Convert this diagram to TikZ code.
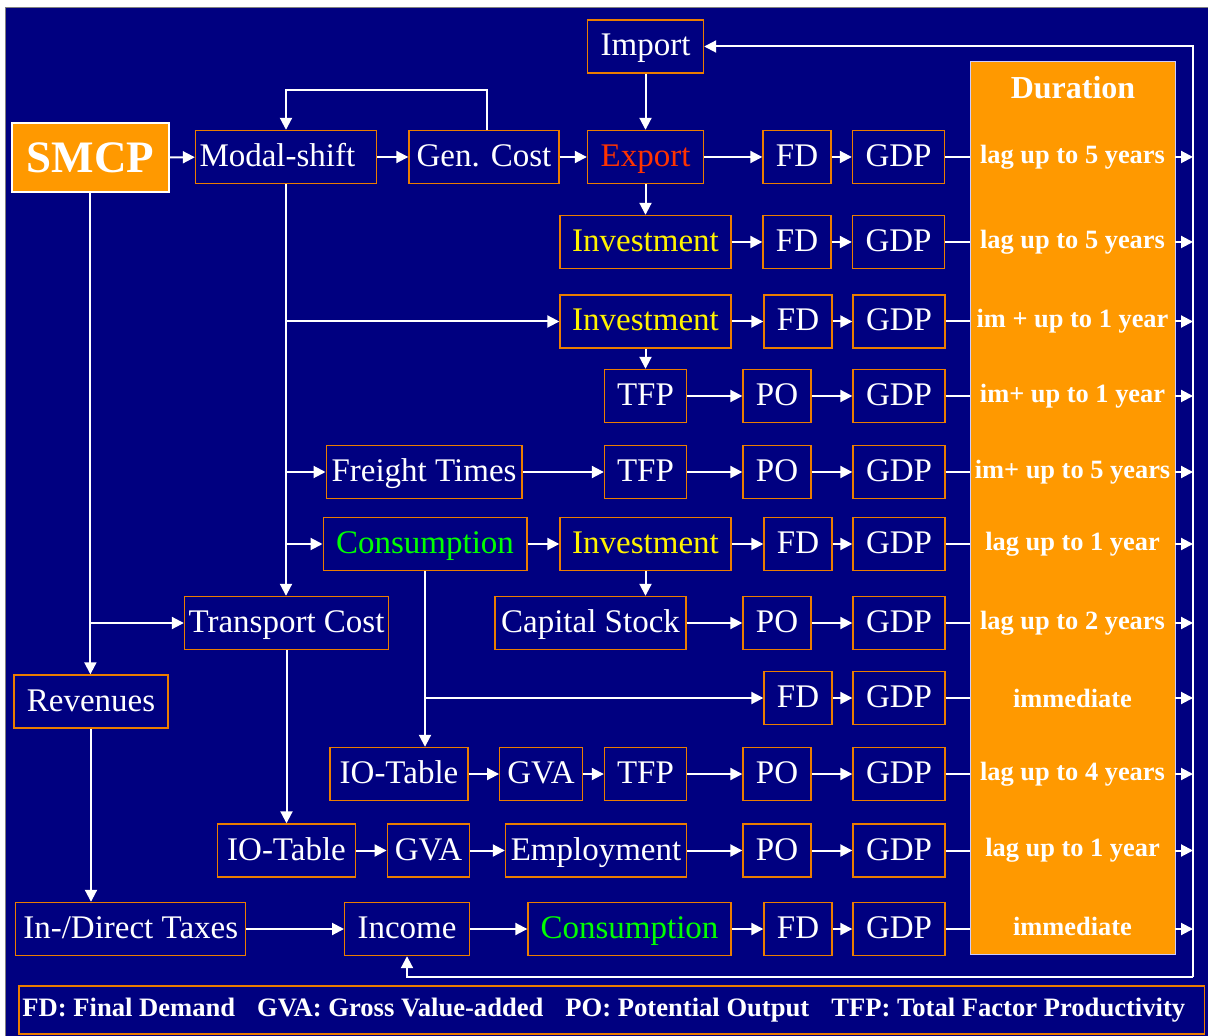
\documentclass[tikz,border=0pt]{standalone}
\usepackage{fontspec}
\setmainfont{Liberation Serif}
\usetikzlibrary{arrows.meta}
\definecolor{navy}{RGB}{0,0,128}
\definecolor{durorange}{RGB}{255,153,0}
\definecolor{edge}{RGB}{235,125,0}
\definecolor{expred}{RGB}{255,51,0}
\definecolor{consgreen}{RGB}{0,255,0}

\begin{document}
\begin{tikzpicture}[x=0.5pt,y=-0.5pt,
    box/.style={draw=edge,line width=0.7pt,fill=navy,text=white,minimum height=26.5pt,
      inner sep=0pt,text height=12pt,text depth=2.5pt,font=\fontsize{16.5}{18}\selectfont},
    arr/.style={draw=white,line width=1pt,-{Triangle[length=6pt,width=6pt]}},
    link/.style={draw=white,line width=1pt},
    lag/.style={text=white,font=\bfseries\fontsize{13.2}{15}\selectfont}]
  \useasboundingbox (0,0) rectangle (1208,1036);
  \fill[white] (0,0) rectangle (1208,1036);
  \draw[fill=navy,draw=gray] (5,7) rectangle (1208,1036);

  % duration column
  \node[draw=white!80!blue,fill=durorange,minimum width=102.5pt,minimum height=446.5pt,inner sep=0pt] (dur) at (1072.5,507.5) {};
  \node[text=white,font=\bfseries\fontsize{16}{18}\selectfont] (durtitle) at (1073,88) {Duration};

  % row 1
  \node[box,minimum width=58pt] (imp) at (645.5,46.5) {Import};
  \node[box,fill=durorange,draw=white,minimum width=78.5pt,minimum height=34.5pt,text height=15pt,text depth=0pt,
    font=\bfseries\fontsize{22.5}{24}\selectfont] (smcp) at (90.4,157.5) {SMCP};
  \node[box,text width=86.5pt,inner xsep=2pt,align=left] (modal) at (286,157) {Modal-shift};
  \node[box,minimum width=75pt] (gen) at (484,157) {Gen. Cost};
  \node[box,minimum width=58pt,text=expred] (exp) at (645.5,157) {Export};
  \node[box,minimum width=34pt] (fd1) at (797,157) {FD};
  \node[box,minimum width=46pt] (gdp1) at (898.5,157) {GDP};

  % row 2
  \node[box,minimum width=85.5pt,text=yellow] (inv2) at (645.5,242) {Investment};
  \node[box,minimum width=34pt] (fd2) at (797,242) {FD};
  \node[box,minimum width=46pt] (gdp2) at (898.5,242) {GDP};

  % row 3
  \node[box,minimum width=85.5pt,text=yellow] (inv3) at (645.5,321.5) {Investment};
  \node[box,minimum width=34pt] (fd3) at (798,321.5) {FD};
  \node[box,minimum width=46pt] (gdp3) at (899,321.5) {GDP};

  % row 4
  \node[box,minimum width=41pt] (tfp4) at (645.5,396) {TFP};
  \node[box,minimum width=34pt] (po4) at (777,396) {PO};
  \node[box,minimum width=46pt] (gdp4) at (899,396) {GDP};

  % row 5
  \node[box,minimum width=97.8pt] (frt) at (424,472) {Freight Times};
  \node[box,minimum width=41pt] (tfp5) at (645.5,472) {TFP};
  \node[box,minimum width=34pt] (po5) at (777,472) {PO};
  \node[box,minimum width=46pt] (gdp5) at (899,472) {GDP};

  % row 6
  \node[box,minimum width=101.8pt,text=consgreen] (cons6) at (425,544) {Consumption};
  \node[box,minimum width=85.5pt,text=yellow] (inv6) at (645.5,544) {Investment};
  \node[box,minimum width=34pt] (fd6) at (798,544) {FD};
  \node[box,minimum width=46pt] (gdp6) at (899,544) {GDP};

  % row 7
  \node[box,minimum width=102pt] (tcost) at (286.5,623) {Transport Cost};
  \node[box,minimum width=95.5pt] (cap) at (590.5,623) {Capital Stock};
  \node[box,minimum width=34pt] (po7) at (777,623) {PO};
  \node[box,minimum width=46pt] (gdp7) at (899,623) {GDP};

  % row 8
  \node[box,minimum width=77pt] (rev) at (91,701.5) {Revenues};
  \node[box,minimum width=34pt] (fd8) at (798,698) {FD};
  \node[box,minimum width=46pt] (gdp8) at (899,698) {GDP};

  % row 9
  \node[box,minimum width=69pt] (io9) at (399,774) {IO-Table};
  \node[box,minimum width=41.25pt] (gva9) at (541,774) {GVA};
  \node[box,minimum width=41pt] (tfp9) at (645.5,774) {TFP};
  \node[box,minimum width=34pt] (po9) at (777,774) {PO};
  \node[box,minimum width=46pt] (gdp9) at (899,774) {GDP};

  % row 10
  \node[box,minimum width=69pt] (io10) at (286.5,850.5) {IO-Table};
  \node[box,minimum width=41.25pt] (gva10) at (428.5,850.5) {GVA};
  \node[box,minimum width=90.5pt] (emp) at (596,850.5) {Employment};
  \node[box,minimum width=34pt] (po10) at (777,850.5) {PO};
  \node[box,minimum width=46pt] (gdp10) at (899,850.5) {GDP};

  % row 11
  \node[box,minimum width=115pt] (tax) at (130.7,929) {In-/Direct Taxes};
  \node[box,minimum width=62.3pt] (inc) at (407,929) {Income};
  \node[box,minimum width=101.5pt,text=consgreen] (cons11) at (629.5,929) {Consumption};
  \node[box,minimum width=34pt] (fd11) at (798,929) {FD};
  \node[box,minimum width=46pt] (gdp11) at (899,929) {GDP};

  % legend
  \node[box,minimum width=592.9pt,minimum height=24pt] (key) at (611.7,1010) {};
  \node[anchor=west,inner sep=0pt,text=white,font=\bfseries\fontsize{13.3}{15}\selectfont] (keytext) at (22,1010)
    {FD: Final Demand\hspace{11pt}GVA: Gross Value-added\hspace{11pt}PO: Potential Output\hspace{11pt}TFP: Total Factor Productivity};

  % durations
  \foreach \y/\t [count=\i] in {157/lag up to 5 years, 242/lag up to 5 years, 321.5/im + up to 1 year,
      396/im+ up to 1 year, 472/im+ up to 5 years, 544/lag up to 1 year, 623/lag up to 2 years,
      698/immediate, 774/lag up to 4 years, 850.5/lag up to 1 year, 926/immediate}
    \node[lag] (lab\i) at (1072.5,\y) {\t};

  \coordinate (rtop) at (1193,46.5);
  \coordinate (rbot) at (1193,976.5);
  \coordinate (fb) at (487,90);

  % connectors
  \draw[arr] (smcp) -- (modal);
  \draw[arr] (modal) -- (gen);
  \draw[arr] (gen) -- (exp);
  \draw[arr] (imp) -- (exp);
  \draw[arr] (exp) -- (inv2);
  \draw[arr] (gen.north -| fb) -- (fb) -| (modal.north);
  \foreach \a/\b in {exp/fd1, fd1/gdp1, inv2/fd2, fd2/gdp2, inv3/fd3, fd3/gdp3, tfp4/po4, po4/gdp4,
      frt/tfp5, tfp5/po5, po5/gdp5, cons6/inv6, inv6/fd6, fd6/gdp6, cap/po7, po7/gdp7, fd8/gdp8,
      io9/gva9, gva9/tfp9, tfp9/po9, po9/gdp9, io10/gva10, gva10/emp, emp/po10, po10/gdp10,
      tax/inc, inc/cons11, cons11/fd11, fd11/gdp11}
    \draw[arr] (\a) -- (\b);
  \draw[arr] (inv3) -- (tfp4);
  \draw[arr] (inv6.south) -- (inv6.south |- cap.north);

  \draw[arr] (modal.south) -- (modal.south |- tcost.north);
  \foreach \n in {inv3, frt, cons6}
    \draw[arr] (modal.south |- \n) -- (\n);
  \draw[arr] (smcp.south) -- (smcp.south |- rev.north);
  \draw[arr] (smcp.south |- tcost) -- (tcost);
  \draw[arr] (rev.south) -- (rev.south |- tax.north);
  \draw[arr] (tcost) -- (io10);
  \draw[arr] (cons6.south) -- (cons6.south |- io9.north);
  \draw[arr] (cons6.south |- fd8) -- (fd8);

  \foreach \i in {1,...,11} {
    \draw[link] (gdp\i) -- (dur.west |- gdp\i);
    \draw[arr] (dur.east |- gdp\i) -- (rtop |- gdp\i);
  }
  \draw[arr] (rbot) -- (rtop) -- (imp);
  \draw[arr] (rbot) -| (inc.south);
\end{tikzpicture}
\end{document}
